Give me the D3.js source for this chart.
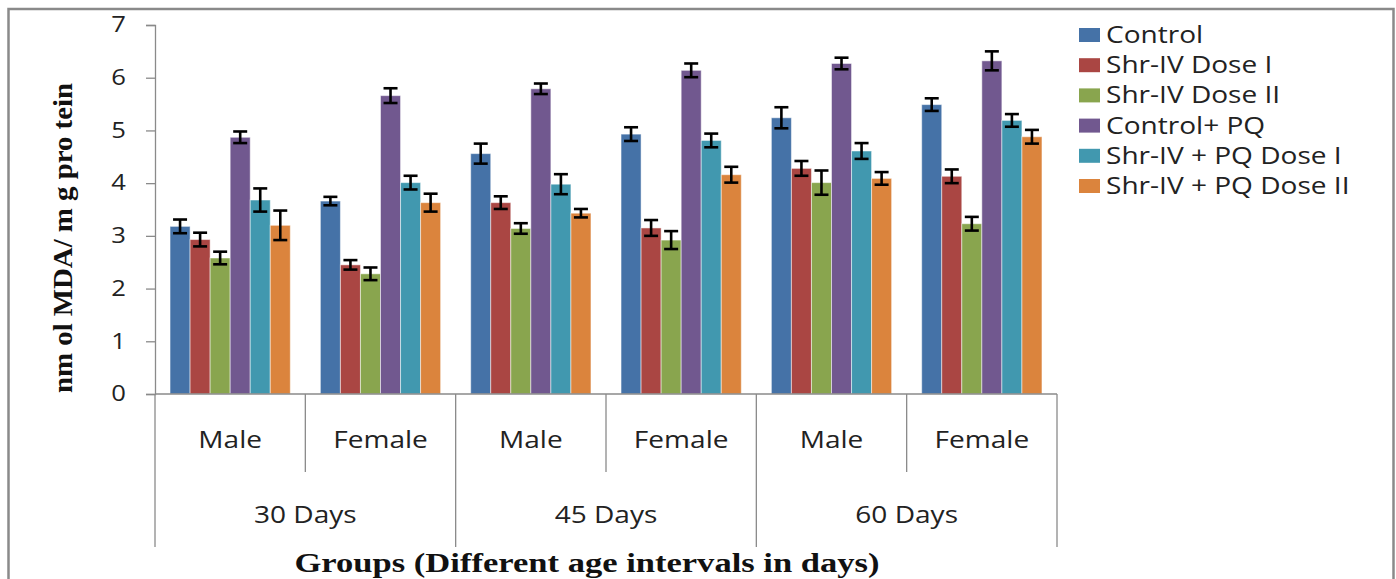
<!DOCTYPE html>
<head>
<meta charset="utf-8">
<style>
  body { margin:0; background:#fff; }
  .lbl { font-family:"Open Sans", sans-serif; fill:#222; }
  .ttl { font-family:"Liberation Serif", serif; font-weight:bold; fill:#111; }
</style>
</head>
<script src="https://d3js.org/d3.v7.min.js"></script>
<div id="my_dataviz"></div>
<script>
// groups along the x axis (sex within age interval)
var ages = ["30 Days", "45 Days", "60 Days"];
var sexes = ["Male", "Female"];
var groups = ["30M", "30F", "45M", "45F", "60M", "60F"];

var series = ["Control", "Shr-IV Dose I", "Shr-IV Dose II", "Control+ PQ", "Shr-IV + PQ Dose I", "Shr-IV + PQ Dose II"];
var colors = ["#4572A7", "#AA4643", "#89A54E", "#71588F", "#4198AF", "#DB843D"];

// mean values, one array per series, in the order of groups
var control     = [3.18, 3.66, 4.56, 4.93, 5.24, 5.49];
var shrDose1    = [2.93, 2.45, 3.63, 3.15, 4.28, 4.13];
var shrDose2    = [2.58, 2.28, 3.14, 2.92, 4.01, 3.23];
var controlPQ   = [4.87, 5.66, 5.79, 6.14, 6.27, 6.32];
var shrPQDose1  = [3.68, 4.01, 3.98, 4.81, 4.61, 5.19];
var shrPQDose2  = [3.20, 3.63, 3.43, 4.16, 4.09, 4.88];

// error bar half widths
var errControl    = [0.13, 0.08, 0.19, 0.13, 0.20, 0.12];
var errShrDose1   = [0.13, 0.09, 0.12, 0.15, 0.14, 0.13];
var errShrDose2   = [0.12, 0.12, 0.10, 0.17, 0.23, 0.13];
var errControlPQ  = [0.11, 0.14, 0.10, 0.13, 0.11, 0.18];
var errShrPQDose1 = [0.22, 0.13, 0.19, 0.13, 0.15, 0.12];
var errShrPQDose2 = [0.28, 0.17, 0.08, 0.15, 0.12, 0.13];

var yTicks = [0, 1, 2, 3, 4, 5, 6, 7];

var values = [control, shrDose1, shrDose2, controlPQ, shrPQDose1, shrPQDose2];
var errors = [errControl, errShrDose1, errShrDose2, errControlPQ, errShrPQDose1, errShrPQDose2];

var W = 1396, H = 579;
var plot = {left:155, right:1057, top:25, bottom:394};
var stretch = 1.22; // the picture's text is drawn wide

var svg = d3.select("#my_dataviz").append("svg")
  .attr("width", W).attr("height", H);

// outer chart border
svg.append("rect")
  .attr("x", 8.5).attr("y", 9).attr("width", 1385).attr("height", 600)
  .attr("fill", "none").attr("stroke", "#8a8a8a").attr("stroke-width", 2.5);

var y = d3.scaleLinear().domain([0, 7]).range([plot.bottom, plot.top]);
var x0 = d3.scaleBand().domain(groups).range([plot.left, plot.right]);
var x1 = d3.scaleBand().domain(series).range([0, x0.bandwidth()]).paddingOuter(0.75);
var xAge = d3.scaleBand().domain(ages).range([plot.left, plot.right]);

// y axis
var yAxis = svg.append("g")
  .attr("transform", "translate(" + plot.left + ",0)")
  .call(d3.axisLeft(y).tickValues(yTicks).tickFormat(d3.format("d")).tickSize(9).tickPadding(20));
yAxis.select(".domain").attr("stroke", "#8a8a8a").attr("stroke-width", 1.3);
yAxis.selectAll(".tick line").attr("stroke", "#8a8a8a").attr("stroke-width", 1.3);
yAxis.selectAll(".tick text")
  .attr("class", "lbl").style("font-size", "21px").attr("fill", "#222")
  .attr("transform", "translate(-29,0) scale(" + stretch + ",1)")
  .attr("x", 0);

// bars
var bars = svg.append("g");
series.forEach(function(s, si) {
  bars.selectAll(".b" + si)
    .data(groups)
    .enter().append("rect")
      .attr("x", function(g) { return x0(g) + x1(s); })
      .attr("y", function(g, gi) { return y(values[si][gi]); })
      .attr("width", x1.bandwidth())
      .attr("height", function(g, gi) { return y(0) - y(values[si][gi]); })
      .attr("fill", colors[si])
      .attr("stroke", "#ffffff").attr("stroke-opacity", 0.5).attr("stroke-width", 1);
});

// error bars
var eb = svg.append("g").attr("stroke", "#000").attr("stroke-width", 2.6);
series.forEach(function(s, si) {
  groups.forEach(function(g, gi) {
    var cx = x0(g) + x1(s) + x1.bandwidth() / 2;
    var hi = y(values[si][gi] + errors[si][gi]);
    var lo = y(values[si][gi] - errors[si][gi]);
    eb.append("line").attr("x1", cx).attr("x2", cx).attr("y1", hi).attr("y2", lo);
    eb.append("line").attr("x1", cx - 7).attr("x2", cx + 7).attr("y1", hi).attr("y2", hi);
    eb.append("line").attr("x1", cx - 7).attr("x2", cx + 7).attr("y1", lo).attr("y2", lo);
  });
});

// x axis: baseline and category separators
var xa = svg.append("g").attr("stroke", "#8a8a8a").attr("stroke-width", 1.3);
xa.append("line").attr("x1", plot.left).attr("x2", plot.right)
  .attr("y1", plot.bottom).attr("y2", plot.bottom);
groups.forEach(function(g, gi) {
  if (gi % 2 == 1) {
    xa.append("line").attr("x1", x0(g)).attr("x2", x0(g))
      .attr("y1", plot.bottom).attr("y2", 472);
  }
});
ages.concat(["end"]).forEach(function(a, ai) {
  var xx = ai < ages.length ? xAge(a) : plot.right;
  xa.append("line").attr("x1", xx).attr("x2", xx)
    .attr("y1", plot.bottom).attr("y2", 547);
});

function wide(sel, fx, fy) {
  sel.attr("transform", function(d, i) {
    return "translate(" + fx(d, i) + "," + fy(d, i) + ") scale(" + stretch + ",1)";
  });
}

svg.append("g").selectAll("text")
  .data(groups)
  .enter().append("text")
    .attr("class", "lbl")
    .attr("text-anchor", "middle")
    .style("font-size", "23px")
    .text(function(g, gi) { return sexes[gi % 2]; })
    .call(wide, function(g) { return x0(g) + x0.bandwidth() / 2; }, function() { return 448; });

svg.append("g").selectAll("text")
  .data(ages)
  .enter().append("text")
    .attr("class", "lbl")
    .attr("text-anchor", "middle")
    .style("font-size", "23px")
    .text(function(a) { return a; })
    .call(wide, function(a) { return xAge(a) + xAge.bandwidth() / 2; }, function() { return 523; });

// axis titles
svg.append("text")
  .attr("class", "ttl")
  .attr("x", 587).attr("y", 572)
  .attr("text-anchor", "middle")
  .style("font-size", "28px")
  .attr("textLength", 585).attr("lengthAdjust", "spacingAndGlyphs")
  .text("Groups (Different age intervals in days)");

svg.append("text")
  .attr("class", "ttl")
  .attr("transform", "translate(72,238) rotate(-90)")
  .attr("text-anchor", "middle")
  .style("font-size", "28px")
  .attr("textLength", 310).attr("lengthAdjust", "spacingAndGlyphs")
  .text("nm ol MDA/ m g pro tein");

// legend
var legend = svg.append("g");
series.forEach(function(s, si) {
  var ly = 35 + si * 30.2;
  legend.append("rect")
    .attr("x", 1079).attr("y", ly - 7).attr("width", 21).attr("height", 14)
    .attr("fill", colors[si]);
  legend.append("text")
    .attr("class", "lbl")
    .attr("dy", "0.35em")
    .style("font-size", "23px")
    .attr("transform", "translate(1106," + ly + ") scale(" + stretch + ",1)")
    .text(s);
});
</script>
